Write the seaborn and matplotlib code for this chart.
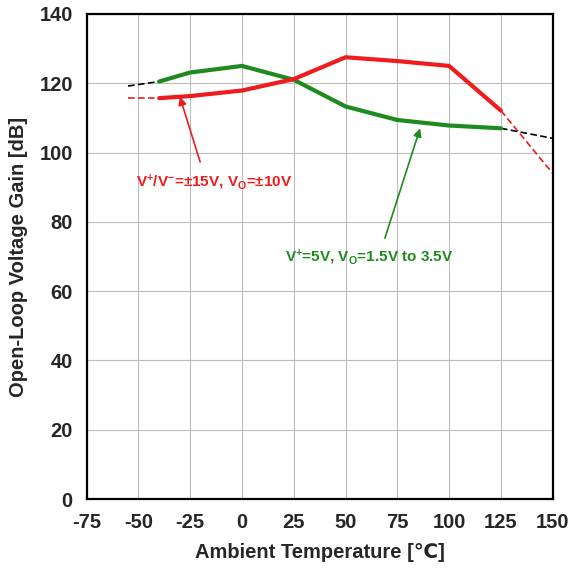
import matplotlib
matplotlib.use("Agg")
import matplotlib.pyplot as plt
import seaborn as sns
import pandas as pd

# measured curves (solid part)
temp = [-40, -25, 0, 25, 50, 75, 100, 125]
gain_5v = [120.5, 123.1, 125.0, 121.0, 113.3, 109.4, 107.8, 107.0]
gain_15v = [115.7, 116.3, 117.9, 121.2, 127.5, 126.4, 125.0, 112.1]

# dashed extensions
ext_5v_lo_t, ext_5v_lo = [-55, -40], [119.2, 120.5]
ext_5v_hi_t, ext_5v_hi = [125, 150], [107.0, 104.1]
ext_15v_lo_t, ext_15v_lo = [-55, -40], [115.7, 115.7]
ext_15v_hi_t, ext_15v_hi = [125, 150], [112.1, 94.0]

x_ticks = [-75, -50, -25, 0, 25, 50, 75, 100, 125, 150]
y_ticks = [0, 20, 40, 60, 80, 100, 120, 140]

red = "#ee1c1c"
green = "#1f8a1f"

sns.set_style("white")
plt.rcParams["font.family"] = ["Liberation Sans", "DejaVu Sans"]
plt.rcParams["font.weight"] = "bold"
plt.rcParams["axes.unicode_minus"] = False
plt.rcParams["mathtext.fontset"] = "custom"
plt.rcParams["mathtext.rm"] = "Liberation Sans:bold"
plt.rcParams["mathtext.bf"] = "Liberation Sans:bold"
plt.rcParams["mathtext.default"] = "bf"

fig = plt.figure(figsize=(5.7, 5.72), dpi=100)
ax = fig.add_axes([0.152, 0.1276, 0.8176, 0.848])

df5 = pd.DataFrame({"t": temp, "g": gain_5v})
df15 = pd.DataFrame({"t": temp, "g": gain_15v})

dash = (0, (4, 2))
sns.lineplot(x=ext_5v_lo_t, y=ext_5v_lo, ax=ax, color="black", lw=1.2, linestyle=dash)
sns.lineplot(x=ext_5v_hi_t, y=ext_5v_hi, ax=ax, color="black", lw=1.2, linestyle=dash)
sns.lineplot(x=ext_15v_lo_t, y=ext_15v_lo, ax=ax, color=red, lw=1.2, linestyle=dash)
sns.lineplot(x=ext_15v_hi_t, y=ext_15v_hi, ax=ax, color=red, lw=1.2, linestyle=dash)
sns.lineplot(data=df5, x="t", y="g", ax=ax, color=green, lw=3)
sns.lineplot(data=df15, x="t", y="g", ax=ax, color=red, lw=3)

ax.set_xlim(-75, 150)
ax.set_ylim(0, 140)
ax.set_xticks(x_ticks)
ax.set_yticks(y_ticks)
ax.grid(True, color="#bdbdbd", lw=0.8)
for s in ax.spines.values():
    s.set_color("black")
    s.set_linewidth(1.6)
ax.tick_params(direction="in", length=4, width=1, labelsize=14.5, pad=10)
for lab in ax.get_xticklabels() + ax.get_yticklabels():
    lab.set_fontweight("bold")

ax.set_xlabel("Ambient Temperature [℃]", fontsize=14.5, fontweight="bold", labelpad=8)
ax.set_ylabel("Open-Loop Voltage Gain [dB]", fontsize=14.5, fontweight="bold", labelpad=8)

# arrows and labels
ax.annotate("", xy=(-30, 116.1), xytext=(-20.2, 97.3),
            arrowprops=dict(arrowstyle="-|>", color=red, lw=1.2, shrinkA=0, shrinkB=0, mutation_scale=12))
ax.text(-51, 91.5, "V$^{+}$/V$^{-}$=±15V, V$_{O}$=±10V", color=red, fontsize=11,
        fontweight="bold", va="center", ha="left")
ax.annotate("", xy=(86, 107), xytext=(69, 75.3),
            arrowprops=dict(arrowstyle="-|>", color=green, lw=1.2, shrinkA=0, shrinkB=0, mutation_scale=12))
ax.text(61.5, 69.8, "V$^{+}$=5V, V$_{O}$=1.5V to 3.5V", color=green, fontsize=11,
        fontweight="bold", va="center", ha="center")

fig.savefig("out.png", dpi=100)
